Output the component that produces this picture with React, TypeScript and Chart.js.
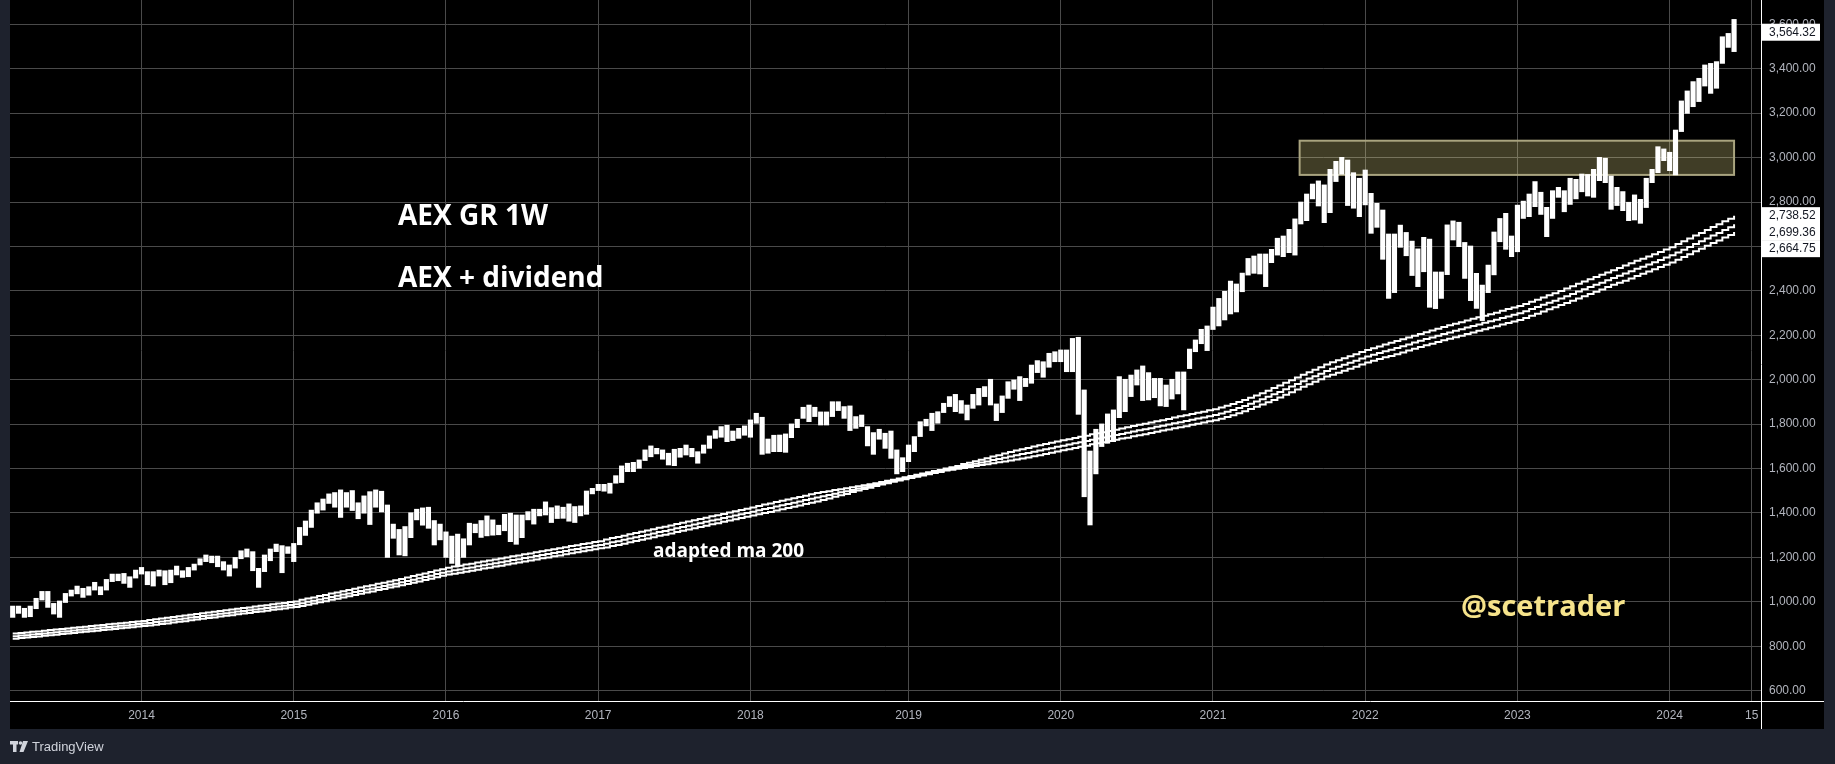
import React, { useEffect, useRef } from "react";
import { Chart, registerables } from "chart.js";

Chart.register(...registerables);

// bar index of the first bi-weekly bar (index 0 = first bar of 2014)
const FIRST_BAR = -22;

const barHigh = [
  981, 981, 971, 981, 1016, 1047, 1047, 993, 1004, 1038, 1053, 1071, 1061, 1068, 1088, 1068, 1101, 1125, 1125, 1128, 1113, 1143,
  1155, 1136, 1136, 1143, 1140, 1143, 1161, 1140, 1155, 1170, 1194, 1211, 1206, 1206, 1181, 1166, 1200, 1230, 1238, 1226, 1151,
  1211, 1238, 1260, 1253, 1248, 1263, 1335, 1364, 1413, 1446, 1463, 1486, 1492, 1504, 1492, 1501, 1446, 1477, 1496, 1504, 1498, 1436,
  1350, 1326, 1339, 1401, 1417, 1423, 1426, 1366, 1350, 1315, 1296, 1305, 1284, 1354, 1350, 1366, 1387, 1369, 1345, 1394,
  1399, 1391, 1391, 1406, 1417, 1417, 1450, 1424, 1432, 1426, 1441, 1429, 1432, 1499, 1511, 1529, 1529, 1534, 1568, 1612,
  1624, 1628, 1639, 1684, 1702, 1691, 1684, 1669, 1687, 1691, 1706, 1691, 1676, 1706, 1747, 1771, 1789, 1795,
  1769, 1781, 1792, 1819, 1849, 1831, 1733, 1750, 1751, 1756, 1801, 1822, 1876, 1886, 1876, 1855, 1855, 1901, 1901, 1879,
  1882, 1834, 1841, 1789, 1762, 1777, 1759, 1769, 1684, 1649, 1706, 1744, 1811, 1822, 1849, 1856, 1894, 1924, 1934, 1906,
  1886, 1934, 1961, 1969, 2002, 1891, 1927, 1991, 1999, 2014, 2006, 2066, 2086, 2081, 2119, 2126,
  2134, 2134, 2186, 2191, 1954, 1679, 1777, 1801, 1846, 1864, 2014, 2002, 2021, 2044, 2062, 2032, 2006, 2006, 1976, 2002, 2035, 2035,
  2138, 2179, 2227, 2242, 2327, 2366, 2398, 2444, 2431, 2480, 2546, 2557, 2566, 2566, 2587, 2637, 2647, 2677, 2724, 2800,
  2836, 2881, 2895, 2877, 2947, 2983, 3001, 2989, 2932, 2907, 2944, 2839, 2794, 2764, 2656, 2656, 2696, 2663, 2624, 2589,
  2641, 2633, 2485, 2485, 2697,
  2715, 2709, 2618, 2602, 2479, 2426, 2516, 2665, 2726, 2749, 2647, 2786, 2804, 2836, 2892, 2844, 2776, 2851, 2866, 2851,
  2907, 2902, 2926, 2924, 2947, 3001, 2997, 2917, 2866, 2847, 2799, 2832, 2812, 2907, 2947, 3049, 3039, 3024, 3124, 3255,
  3300, 3342, 3357, 3417, 3424, 3432, 3544, 3559, 3622,
];

const barLow = [
  930, 948, 930, 933, 969, 1008, 975, 945, 930, 997, 1026, 1036, 1020, 1030, 1053, 1032, 1053, 1091, 1095, 1083, 1065, 1107,
  1125, 1077, 1071, 1116, 1077, 1086, 1121, 1110, 1113, 1143, 1166, 1181, 1176, 1158, 1143, 1116, 1152, 1194, 1203, 1140, 1065,
  1136, 1185, 1226, 1131, 1218, 1181, 1257, 1299, 1335, 1399, 1413, 1443, 1426, 1380, 1426, 1411, 1374, 1399, 1348, 1426, 1405, 1200,
  1286, 1211, 1207, 1289, 1369, 1345, 1331, 1256, 1279, 1200, 1173, 1158, 1200, 1256, 1311, 1290, 1297, 1300, 1302, 1320,
  1271, 1259, 1289, 1369, 1350, 1387, 1391, 1357, 1375, 1376, 1363, 1357, 1387, 1394, 1486, 1501, 1498, 1489, 1534, 1537,
  1586, 1586, 1601, 1636, 1653, 1666, 1642, 1616, 1613, 1651, 1661, 1653, 1624, 1669, 1691, 1736, 1741, 1721,
  1726, 1736, 1750, 1741, 1804, 1664, 1669, 1676, 1676, 1673, 1739, 1784, 1826, 1811, 1834, 1796, 1796, 1834, 1861, 1826,
  1771, 1781, 1789, 1702, 1664, 1732, 1691, 1646, 1576, 1586, 1631, 1676, 1744, 1792, 1771, 1804, 1852, 1879, 1856, 1849,
  1819, 1871, 1886, 1924, 1886, 1816, 1852, 1916, 1957, 1906, 1969, 1984, 2032, 2011, 2056, 2081,
  2081, 2036, 2036, 1844, 1473, 1346, 1576, 1699, 1714, 1721, 1829, 1856, 1924, 1976, 1906, 1909, 1919, 1882, 1879, 1913, 1936, 1864,
  2050, 2126, 2162, 2131, 2226, 2242, 2269, 2296, 2305, 2396, 2471, 2479, 2476, 2419, 2527, 2561, 2554, 2572, 2561, 2701,
  2716, 2814, 2782, 2707, 2752, 2892, 2925, 2784, 2772, 2734, 2787, 2659, 2686, 2542, 2366, 2392, 2596, 2558, 2469, 2419,
  2486, 2326, 2320, 2366, 2473,
  2629, 2599, 2456, 2356, 2321, 2266, 2392, 2472, 2621, 2587, 2554, 2576, 2726, 2734, 2779, 2744, 2644, 2726, 2821, 2756,
  2789, 2814, 2846, 2827, 2821, 2896, 2887, 2767, 2784, 2761, 2716, 2719, 2704, 2775, 2887, 2932, 2986, 2941, 2922, 3117,
  3199, 3229, 3252, 3322, 3289, 3312, 3424, 3496, 3477,
];

const maUpper = [
  857, 860, 862, 865, 867, 870, 873, 875, 878, 880, 883, 886, 888, 891, 893, 896, 899, 901, 904, 906, 909, 912, 914,
  918, 922, 925, 928, 932, 935, 938, 942, 945, 949, 952, 955, 959, 962, 965, 969, 972, 975, 979, 982, 985, 989, 992, 995, 999, 1002,
  1009, 1015, 1020, 1026, 1031, 1037, 1042, 1048, 1053, 1059, 1064, 1070, 1075, 1081, 1086, 1092, 1097, 1103,
  1110, 1116, 1122, 1128, 1134, 1141, 1147, 1153,
  1159, 1163, 1168, 1172, 1177, 1182, 1186, 1191, 1195, 1200, 1205, 1209, 1214, 1218, 1223, 1228, 1232, 1237, 1241, 1246, 1251, 1255, 1260, 1264, 1269, 1273,
  1281, 1287, 1292, 1298, 1304, 1310, 1315, 1321, 1327, 1333, 1338, 1344, 1350, 1356, 1362, 1367, 1373, 1379, 1385, 1390, 1396, 1402, 1408, 1413, 1419, 1425,
  1432, 1438, 1443, 1449, 1455, 1461, 1466, 1472, 1478, 1484, 1490,
  1494, 1498, 1503, 1507, 1511, 1516, 1520, 1525, 1529, 1534, 1539, 1545, 1550,
  1555, 1561, 1567,
  1572, 1578, 1583, 1589, 1594, 1600,
  1606, 1612, 1620, 1626, 1633, 1640, 1646, 1654, 1660, 1668, 1674, 1681, 1687, 1693, 1699,
  1705, 1711, 1716, 1722, 1727,
  1732, 1738, 1743, 1748, 1754, 1759, 1764, 1769, 1775, 1780,
  1786, 1792, 1797, 1802, 1807, 1813, 1818, 1823,
  1830, 1835, 1840, 1846, 1851, 1856, 1862, 1867,
  1875, 1883, 1891, 1900, 1909, 1919, 1929, 1939, 1950,
  1963, 1974, 1986, 1998, 2010, 2022, 2034, 2045, 2056, 2068,
  2079, 2088, 2097, 2106, 2115, 2125, 2134, 2142, 2150, 2158,
  2166, 2174, 2182, 2190, 2198, 2206, 2214, 2221, 2229, 2237,
  2245, 2252, 2259, 2267, 2274, 2281, 2288, 2295, 2302, 2310,
  2318, 2325, 2332, 2341, 2351, 2360, 2370, 2380, 2389, 2399,
  2411, 2421, 2432, 2442, 2452, 2462, 2472, 2483, 2493, 2503,
  2514, 2524, 2535, 2545, 2555, 2565, 2575, 2586, 2596,
  2611, 2623, 2636, 2649, 2661, 2674,
  2688, 2700, 2713, 2725, 2738.52,
];

const maMid = [
  845, 848, 850, 853, 855, 858, 861, 863, 866, 868, 871, 874, 876, 879, 881, 884, 887, 889, 892, 894, 897, 900, 902,
  905, 909, 912, 915, 919, 922, 925, 929, 932, 936, 939, 942, 946, 949, 952, 956, 959, 962, 966, 969, 972, 976, 979, 982, 986, 989,
  994, 1000, 1005, 1011, 1016, 1022, 1027, 1033, 1038, 1044, 1049, 1055, 1060, 1066, 1071, 1077, 1082, 1088,
  1094, 1100, 1106, 1112, 1118, 1125, 1131, 1137,
  1142, 1146, 1151, 1155, 1160, 1165, 1169, 1174, 1178, 1183, 1188, 1192, 1197, 1201, 1206, 1211, 1215, 1220, 1224, 1229, 1234, 1238, 1243, 1247, 1252, 1256,
  1262, 1268, 1273, 1279, 1285, 1291, 1296, 1302, 1308, 1314, 1319, 1325, 1331, 1337, 1343, 1348, 1354, 1360, 1366, 1371, 1377, 1383, 1389, 1394, 1400, 1406,
  1412, 1418, 1423, 1429, 1435, 1441, 1446, 1452, 1458, 1464, 1470, 1475, 1481, 1487, 1493, 1498, 1504, 1510, 1516, 1521, 1527, 1533, 1539, 1545, 1550, 1556, 1562,
  1567, 1573, 1578, 1584, 1589, 1595, 1600, 1605, 1611, 1616, 1622, 1627, 1632, 1638, 1643, 1649, 1654, 1660, 1665, 1670, 1676, 1681, 1687, 1692, 1698, 1703,
  1708, 1714, 1719, 1724, 1730, 1735, 1740, 1745, 1751, 1756, 1761, 1767, 1772, 1777, 1782, 1788, 1793, 1798, 1804, 1809, 1814, 1820, 1825, 1830, 1836, 1841,
  1848, 1856, 1864, 1873, 1882, 1892, 1902, 1912, 1923, 1934, 1945, 1957, 1969, 1981, 1993, 2005, 2016, 2027, 2039,
  2049, 2058, 2067, 2076, 2085, 2095, 2104, 2112, 2120, 2128, 2135, 2143, 2151, 2159, 2167, 2175, 2183, 2190, 2198, 2206,
  2213, 2220, 2227, 2235, 2242, 2249, 2256, 2263, 2270, 2278, 2285, 2292, 2299, 2308, 2318, 2327, 2337, 2347, 2356, 2366,
  2376, 2386, 2397, 2407, 2417, 2427, 2437, 2448, 2458, 2468, 2478, 2488, 2499, 2509, 2519, 2529, 2539, 2550, 2560,
  2573, 2585, 2598, 2611, 2623, 2636, 2649, 2661, 2674, 2686, 2699.36,
];

const maLower = [
  834, 837, 839, 842, 844, 847, 850, 852, 855, 857, 860, 863, 865, 868, 870, 873, 876, 878, 881, 883, 886, 889, 891,
  893, 897, 900, 903, 907, 910, 913, 917, 920, 924, 927, 930, 934, 937, 940, 944, 947, 950, 954, 957, 960, 964, 967, 970, 974, 977,
  981, 987, 992, 998, 1003, 1009, 1014, 1020, 1025, 1031, 1036, 1042, 1047, 1053, 1058, 1064, 1069, 1075,
  1080, 1086, 1092, 1098, 1104, 1111, 1117, 1123,
  1127, 1131, 1136, 1140, 1145, 1150, 1154, 1159, 1163, 1168, 1173, 1177, 1182, 1186, 1191, 1196, 1200, 1205, 1209, 1214, 1219, 1223, 1228, 1232, 1237, 1241,
  1245, 1251, 1256, 1262, 1268, 1274, 1279, 1285, 1291, 1297, 1302, 1308, 1314, 1320, 1326, 1331, 1337, 1343, 1349, 1354, 1360, 1366, 1372, 1377, 1383, 1389,
  1394, 1400, 1405, 1411, 1417, 1423, 1428, 1434, 1440, 1446, 1452,
  1458, 1465, 1473, 1480, 1486, 1494, 1501, 1508, 1514, 1521, 1528, 1534, 1541,
  1546, 1552, 1558,
  1563, 1569, 1574, 1580, 1585, 1591,
  1595, 1599, 1603, 1607, 1612, 1616, 1619, 1624, 1628, 1632, 1636, 1641, 1645, 1650, 1655,
  1660, 1666, 1671, 1677, 1682,
  1687, 1693, 1698, 1703, 1709, 1714, 1719, 1724, 1730, 1735,
  1739, 1745, 1750, 1755, 1760, 1766, 1771, 1776,
  1781, 1786, 1791, 1797, 1802, 1807, 1813, 1818,
  1824, 1832, 1840, 1849, 1858, 1868, 1878, 1888, 1899,
  1909, 1920, 1932, 1944, 1956, 1968, 1980, 1991, 2002, 2014,
  2022, 2031, 2040, 2049, 2058, 2068, 2077, 2085, 2093, 2101,
  2107, 2115, 2123, 2131, 2139, 2147, 2155, 2162, 2170, 2178,
  2184, 2191, 2198, 2206, 2213, 2220, 2227, 2234, 2241, 2249,
  2255, 2262, 2269, 2278, 2288, 2297, 2307, 2317, 2326, 2336,
  2345, 2355, 2366, 2376, 2386, 2396, 2406, 2417, 2427, 2437,
  2446, 2456, 2467, 2477, 2487, 2497, 2507, 2518, 2528,
  2540, 2552, 2565, 2578, 2590, 2603,
  2615, 2627, 2640, 2652, 2664.75,
];

const lastClose = 3564.32;

const yearTickIndex = [0, 26, 52, 78, 104, 131, 157, 183, 209, 235, 261, 275];
const yearTickLabel = ["2014", "2015", "2016", "2017", "2018", "2019", "2020", "2021", "2022", "2023", "2024", "15"];
const priceTicks = [600, 800, 1000, 1200, 1400, 1600, 1800, 2000, 2200, 2400, 2600, 2800, 3000, 3200, 3400, 3600];

// resistance zone (bar index range and price range)
const zoneFrom = 197.8;
const zoneTo = 272;
const zoneLow = 2922;
const zoneHigh = 3076;

const X_MIN = -22.46;
const X_MAX = 276.6;
const Y_MIN = 553.6;
const Y_MAX = 3709.4;

const fmt = (v: number) =>
  v.toLocaleString("en-US", { minimumFractionDigits: 2, maximumFractionDigits: 2 });

const AXIS_FONT = "Liberation Sans";

const decor = {
  id: "decor",
  beforeDraw(chart: any) {
    const c = chart.ctx;
    c.save();
    c.fillStyle = "#1e222d";
    c.fillRect(0, 0, chart.width, chart.height);
    c.fillStyle = "#000000";
    c.fillRect(10, 0, 1814, 729);
    c.restore();
  },
  beforeDatasetsDraw(chart: any) {
    const c = chart.ctx;
    const { x, y } = chart.scales;
    const l = x.getPixelForValue(zoneFrom);
    const r = x.getPixelForValue(zoneTo);
    const t = y.getPixelForValue(zoneHigh);
    const b = y.getPixelForValue(zoneLow);
    c.save();
    c.fillStyle = "rgba(255, 242, 150, 0.25)";
    c.fillRect(l, t, r - l, b - t);
    c.strokeStyle = "#a9a47f";
    c.lineWidth = 2;
    c.strokeRect(l, t, r - l, b - t);
    c.restore();
  },
  afterDraw(chart: any) {
    const c = chart.ctx;
    const area = chart.chartArea;
    const y = chart.scales.y;
    c.save();
    // axis lines
    c.strokeStyle = "#ffffff";
    c.lineWidth = 1;
    c.beginPath();
    c.moveTo(10, Math.round(area.bottom) + 0.5);
    c.lineTo(1824, Math.round(area.bottom) + 0.5);
    c.moveTo(Math.round(area.right) + 0.5, 0);
    c.lineTo(Math.round(area.right) + 0.5, 729);
    c.stroke();

    // annotation texts
    c.fillStyle = "#ffffff";
    c.textBaseline = "alphabetic";
    c.textAlign = "left";
    c.font = 'bold 28px "Open Sans"';
    c.fillText("AEX GR 1W", 398, 225);
    c.fillText("AEX + dividend", 398, 287);
    c.font = 'bold 19px "Open Sans"';
    c.fillText("adapted ma 200", 653, 557);
    c.fillStyle = "#f6e38b";
    c.font = 'bold 29px "Open Sans"';
    c.fillText("@scetrader", 1461, 616);

    // price labels on the right axis
    const labelX = Math.round(area.right) + 1;
    const drawLabel = (cy: number, v: number) => {
      c.fillStyle = "#ffffff";
      c.fillRect(labelX, cy - 8.5, 58, 17);
      c.fillStyle = "#131722";
      c.font = `12px "${AXIS_FONT}"`;
      c.textBaseline = "middle";
      c.fillText(fmt(v), labelX + 7, cy + 0.5);
    };
    drawLabel(y.getPixelForValue(lastClose), lastClose);
    const maLast = [maUpper[maUpper.length - 1], maMid[maMid.length - 1], maLower[maLower.length - 1]];
    let prev = -1e9;
    for (const v of maLast) {
      let cy = y.getPixelForValue(v);
      if (cy < prev + 16.5) cy = prev + 16.5;
      drawLabel(cy, v);
      prev = cy;
    }

    // TradingView footer
    c.fillStyle = "#d1d4dc";
    c.fillRect(10, 741, 8, 3.5);
    c.fillRect(13, 741, 3.5, 11);
    c.beginPath();
    c.arc(20.5, 743, 1.8, 0, Math.PI * 2);
    c.fill();
    c.beginPath();
    c.moveTo(23, 741);
    c.lineTo(28, 741);
    c.lineTo(23.5, 752);
    c.lineTo(19.5, 752);
    c.closePath();
    c.fill();
    c.font = `13px "${AXIS_FONT}"`;
    c.textBaseline = "middle";
    c.fillText("TradingView", 32, 747);
    c.restore();
  },
};

export default function App() {
  const ref = useRef<HTMLCanvasElement>(null);

  useEffect(() => {
    document.body.style.margin = "0";
    document.body.style.background = "#1e222d";
    const bars = barHigh.map((h, i) => ({ x: FIRST_BAR + i, y: [barLow[i], h] }));
    const line = (arr: number[]) => arr.map((v, i) => ({ x: FIRST_BAR + i, y: v }));
    const lineStyle = {
      type: "line" as const,
      borderColor: "#ffffff",
      borderWidth: 2,
      pointRadius: 0,
      stepped: true,
      tension: 0,
      fill: false,
      order: 0,
    };
    const chart = new Chart(ref.current as HTMLCanvasElement, {
      type: "bar",
      data: {
        datasets: [
          { ...lineStyle, data: line(maUpper) },
          { ...lineStyle, data: line(maMid) },
          { ...lineStyle, data: line(maLower) },
          {
            type: "bar",
            data: bars as any,
            backgroundColor: "#ffffff",
            borderWidth: 0,
            barThickness: 4.5,
            order: 1,
          } as any,
        ],
      },
      options: {
        responsive: false,
        animation: false,
        devicePixelRatio: 1,
        events: [],
        layout: { padding: { left: 10, right: 11, top: 0, bottom: 35 } },
        plugins: { legend: { display: false }, tooltip: { enabled: false } },
        scales: {
          x: {
            type: "linear",
            min: X_MIN,
            max: X_MAX,
            offset: false,
            border: { display: false },
            grid: { color: "#4a4a4a", lineWidth: 1, drawTicks: false, offset: false },
            afterBuildTicks: (s: any) => {
              s.ticks = yearTickIndex.map((v) => ({ value: v }));
            },
            afterFit: (s: any) => {
              s.height = 28;
              s.paddingLeft = 0;
              s.paddingRight = 0;
            },
            ticks: {
              autoSkip: false,
              maxRotation: 0,
              padding: 7,
              color: "#b2b5be",
              font: { family: AXIS_FONT, size: 12 },
              callback: (v: any) => {
                const i = yearTickIndex.indexOf(Number(v));
                return i >= 0 ? yearTickLabel[i] : "";
              },
            },
          },
          y: {
            type: "linear",
            position: "right",
            min: Y_MIN,
            max: Y_MAX,
            border: { display: false },
            grid: { color: "#4a4a4a", lineWidth: 1, drawTicks: false },
            afterBuildTicks: (s: any) => {
              s.ticks = priceTicks.map((v) => ({ value: v }));
            },
            afterFit: (s: any) => {
              s.width = 63;
              s.paddingTop = 0;
              s.paddingBottom = 0;
            },
            ticks: {
              padding: 8,
              color: "#b2b5be",
              font: { family: AXIS_FONT, size: 12 },
              callback: (v: any) => fmt(Number(v)),
            },
          },
        },
      },
      plugins: [decor],
    });
    return () => chart.destroy();
  }, []);

  return (
    <div style={{ width: 1835, height: 764 }}>
      <canvas ref={ref} width={1835} height={764} style={{ display: "block", width: 1835, height: 764 }} />
    </div>
  );
}
